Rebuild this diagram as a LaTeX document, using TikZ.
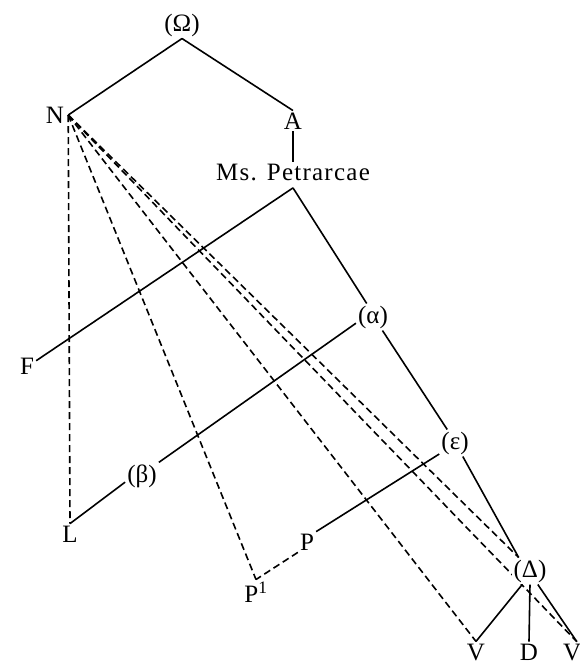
\documentclass[tikz,border=0pt]{standalone}
\usepackage{fontspec}
\setmainfont{Liberation Serif}
\newfontfamily\widefont[LetterSpace=5]{Liberation Serif}
\usepackage{tikz}
\usetikzlibrary{backgrounds}

\begin{document}
\begin{tikzpicture}[x=1pt,y=-1pt,
    every node/.style={font=\fontsize{25}{30}\selectfont,inner sep=2pt},
    every on background layer/.style={line width=1.6pt},
    dsh/.style={dash pattern=on 7pt off 4pt}]
    \useasboundingbox (0,0) rectangle (580,670);
    \node (om) at (182,25) {(Ω)};
    \node[inner xsep=4pt] (N) at (55,115) {N};
    \node (A) at (293,121) {A};
    \node[text depth=5pt,font=\fontsize{25}{30}\widefont] (ms) at (293,175) {Ms. Petrarcae};
    \node (F) at (27,366) {F};
    \node (al) at (373,317) {(α)};
    \node (be) at (142,476) {(β)};
    \node (eps) at (455,443) {(ε)};
    \node (L) at (70,534) {L};
    \node (P) at (307,542) {P};
    \node (P1) at (256,592) {P\textsuperscript{1}};
    \node[fill=white] (del) at (530,571) {(Δ)};
    \node (V) at (476,652) {V};
    \node (D) at (529,652) {D};
    \node[anchor=west] (V0) at (561,654) {V\textsubscript{0}};
    \begin{scope}[on background layer]
    \draw (om.south)--(N.east);
    \draw (om.south)--(A.north);
    \draw (A.south)--(ms.north);
    \draw (ms.south)--(F.30);
    \draw (ms.south)--(al.115);
    \draw (al.-55)--(eps.120);
    \draw (eps.-60)--(del.130);
    \draw (al.200)--(be.north east);
    \draw (be.200)--(L.north);
    \draw (eps.215)--(P.north east);
    \draw[dsh] (P.south west)--(P1.north);
    \draw[dsh] (N.east)--(L.north);
    \draw[dsh] (N.east)--(P1.north);
    \draw[dsh] (N.east)--(V.north);
    \draw[dsh] (N.east)--(del.130);
    \draw[dsh] (N.east)--(V0.north);
    \draw (del.-120)--(V.north);
    \draw (del.south)--(D.north);
    \draw (del.-60)--(V0.north);
    \end{scope}
\end{tikzpicture}
\end{document}
